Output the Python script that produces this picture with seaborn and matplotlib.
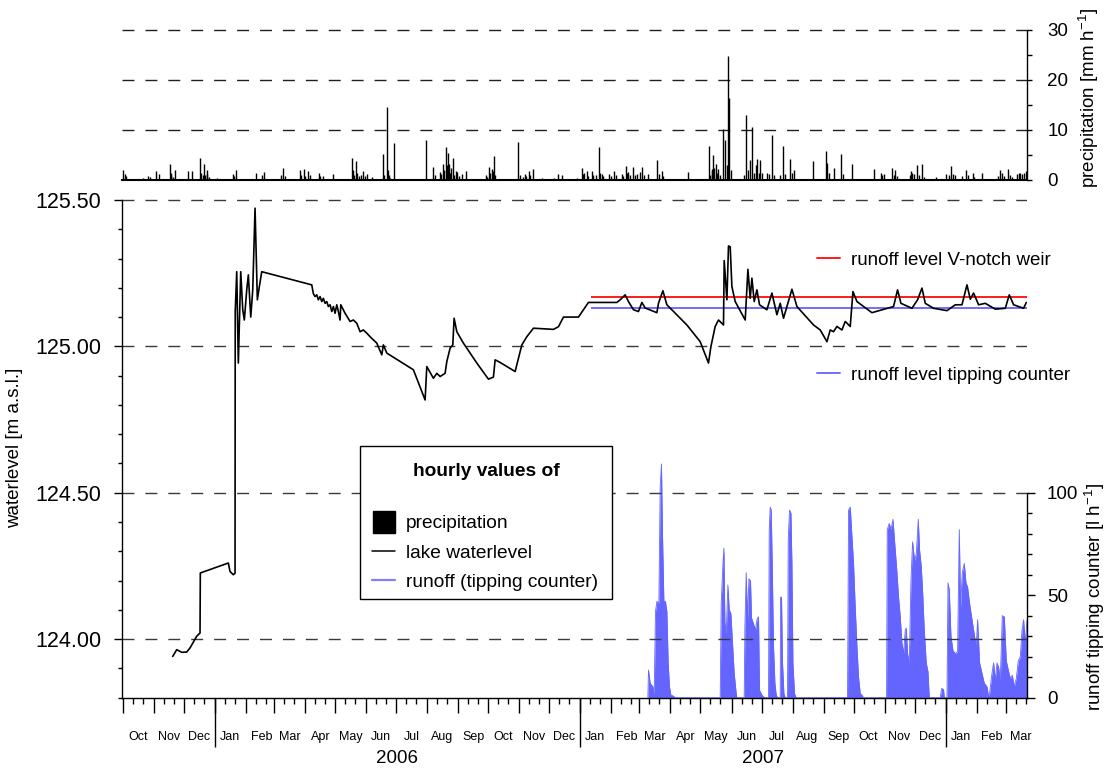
import numpy as np
import pandas as pd
import matplotlib
matplotlib.use("Agg")
import matplotlib.pyplot as plt
import matplotlib.dates as mdates
from matplotlib.ticker import MultipleLocator, FixedLocator, NullFormatter, FormatStrFormatter, NullLocator
from matplotlib.lines import Line2D
from matplotlib.patches import Rectangle
import seaborn as sns

# ---------------- data (days since 2005-10-01) ----------------
wl_day = [49.4, 53.4, 58.4, 63.4, 66.7, 73.4, 76.7, 77.0, 105.0, 106.7,
          110.0, 111.7, 111.9, 113.4, 115.0, 117.4, 119.4, 121.0, 123.4, 125.0,
          127.4, 129.4, 131.7, 132.7, 134.0, 136.0, 138.4,
          188.4, 190.0, 191.7, 193.4, 195.0, 196.7, 198.4, 200.0, 201.7, 203.4,
          205.0, 206.7, 208.4, 210.0, 211.7, 213.4, 215.0, 216.7, 217.4, 221.7,
          226.7, 230.0, 233.4, 236.7, 240.0, 243.4, 246.7, 250.0, 253.4, 258.4,
          260.0, 263.4,
          290.0, 301.7, 303.4, 310.0, 313.4, 316.7, 321.7, 323.4,
          326.7, 329.4, 330.7, 333.4, 340.0, 353.4, 365.0, 370.0, 371.7, 376.7,
          391.7, 398.4, 403.4, 410.0, 430.0, 435.0, 440.0, 455.0, 460.0, 465.0,
          493.4, 496.7, 501.7, 505.0, 510.0, 515.0, 518.4, 521.7, 533.4, 535.0,
          539.4, 543.4, 563.4, 576.7, 585.0, 587.4, 591.7, 595.0, 600.0, 600.7,
          603.4, 605.0, 606.7, 608.4, 611.7, 621.7, 624.4, 626.7, 628.4, 630.7,
          633.4, 636.0, 643.4, 648.4, 653.4, 656.7, 660.0, 668.4, 673.4, 690.0,
          696.7, 703.4, 706.7, 710.0, 713.4, 718.4, 721.7, 726.7, 729.4, 733.4,
          748.4, 770.0, 774.0, 777.4, 788.4, 794.0, 798.4, 801.7, 810.0, 823.4,
          831.7, 838.4, 843.4, 846.7, 850.0, 855.0, 861.7, 871.7, 881.7, 885.7,
          890.0, 900.0, 902.7]
wl_val = [123.941, 123.964, 123.955, 123.956, 123.970, 124.010, 124.021, 124.226, 124.260, 124.231,
          124.220, 124.225, 125.119, 125.255, 124.943, 125.255, 125.125, 125.090, 125.193, 125.244,
          125.100, 125.193, 125.472, 125.340, 125.159, 125.204, 125.255,
          125.210, 125.180, 125.170, 125.176, 125.159, 125.170, 125.153, 125.164, 125.147, 125.153,
          125.136, 125.142, 125.119, 125.136, 125.113, 125.142, 125.119, 125.090, 125.142, 125.113,
          125.085, 125.090, 125.079, 125.050, 125.056, 125.045, 125.033, 125.022, 125.011, 124.971,
          125.005, 124.977,
          124.920, 124.817, 124.931, 124.891, 124.908, 124.897, 124.908, 124.948,
          124.994, 125.005, 125.096, 125.050, 125.011, 124.943, 124.888, 124.895, 124.954, 124.945,
          124.914, 125.005, 125.033, 125.062, 125.058, 125.067, 125.100, 125.100, 125.125, 125.150,
          125.150, 125.159, 125.176, 125.153, 125.125, 125.119, 125.150, 125.131, 125.115, 125.147,
          125.190, 125.142, 125.073, 125.016, 124.943, 124.999, 125.068, 125.090, 125.073, 125.293,
          125.159, 125.343, 125.340, 125.204, 125.153, 125.090, 125.263, 125.164, 125.233, 125.153,
          125.193, 125.142, 125.125, 125.182, 125.108, 125.147, 125.096, 125.195, 125.136, 125.073,
          125.056, 125.016, 125.056, 125.050, 125.068, 125.056, 125.085, 125.068, 125.187, 125.153,
          125.115, 125.136, 125.193, 125.147, 125.130, 125.159, 125.199, 125.147, 125.130, 125.122,
          125.142, 125.142, 125.210, 125.161, 125.182, 125.142, 125.147, 125.127, 125.130, 125.176,
          125.142, 125.130, 125.150]

ro_day = [524.4, 525.0, 526.7, 529.4, 530.7, 532.0, 533.4, 535.4, 536.7, 538.0, 539.0, 540.4, 542.0,
          543.4, 544.7, 546.0, 547.4, 550.0, 551.7,
          596.7, 597.7, 599.4, 600.4, 601.4, 602.7, 604.4, 605.7, 607.4, 609.0, 610.7, 612.7, 613.4,
          620.7, 621.4, 622.7, 624.0, 625.4, 627.0, 628.0, 630.0, 632.0, 633.4, 635.0, 636.0, 638.4, 641.0,
          645.0, 645.7, 646.7, 647.7, 648.7, 650.0, 651.4, 652.7, 654.0,
          656.7, 657.0, 658.0, 659.0, 660.4, 661.7,
          664.0, 664.7, 666.0, 667.4, 668.4, 669.4, 671.0, 672.7,
          724.0, 725.0, 726.7, 728.4, 730.0, 731.7, 733.4, 735.0, 736.7, 738.4, 740.0,
          763.0, 763.7, 765.7, 767.4, 769.4, 771.4, 773.4, 775.0, 776.7, 778.4, 780.0, 781.7, 782.7,
          784.0, 785.7, 787.4, 789.0, 791.0, 792.7, 794.7, 796.0, 797.7, 799.0, 800.7, 802.7, 804.4, 805.7,
          816.7, 818.0, 820.0, 820.7,
          823.4, 824.4, 825.7, 827.4, 829.4, 831.7, 834.0, 835.7, 837.0, 838.7, 840.7, 842.4, 844.0,
          846.0, 848.0, 850.0, 852.7, 854.0, 856.0, 858.4, 860.7, 863.4, 864.7, 866.0, 868.4, 870.0,
          871.7, 873.4, 875.0, 876.7, 878.7, 880.7, 882.7, 884.7, 886.7, 888.7, 890.7, 892.7, 894.7,
          896.7, 898.4, 900.0, 901.7, 903.4]
ro_val = [0, 13.5, 7, 5.4, 1.3, 42, 47, 46, 103, 114, 80, 47, 47, 42, 17, 5.4, 1.3, 0.8, 0,
          0, 46, 65, 73, 37, 31, 55, 43, 41, 26.5, 12, 2, 0,
          0, 35, 61, 38, 58, 57, 39, 36, 33, 38, 39.5, 3.7, 1.3, 0,
          0, 82, 93, 91.5, 65.5, 25, 7, 1.3, 0,
          0, 49, 49, 17, 2, 0,
          0, 77, 91.5, 90, 65.5, 17, 2, 0,
          0, 91.5, 93, 78.5, 65.5, 44, 25, 10, 2, 1.3, 0,
          0, 82, 85, 82, 87, 74, 61, 49, 39.5, 26.5, 21.6, 33, 34,
          21.6, 17, 57, 76, 67, 70, 87, 72, 64, 52.5, 33, 17, 12.7, 0,
          0, 4.5, 4, 0,
          0, 56, 52.5, 30, 23, 21.6, 22.4, 82, 44, 61, 65.5, 56, 54,
          46, 39.5, 33, 25, 38, 17, 12, 7, 5.4, 1.3, 2, 12, 17,
          8.6, 17, 15, 8.6, 40, 39.5, 18, 13.5, 9.4, 11, 5.4, 9.4, 18,
          20, 33, 38, 26.5, 38]

# larger hourly precipitation totals
pr_day = [-0.6, 1.4, 25, 32.4, 35.7, 46.7, 48, 51.7, 64.4, 69,
          76.7, 81, 82, 84, 93.4, 110, 112.4, 132.7, 140.7, 160,
          176.7, 180.7, 185, 195.7, 200, 210, 228.4, 232.4, 234, 240,
          243.4, 248.4, 259.4, 263.4, 264.4, 270.7, 302.4, 310, 316.7, 319.4,
          322.4, 324.4, 326, 330, 334, 338.4, 342.4, 362.4, 366, 368.4,
          370.7, 394.4, 396.7, 401.7, 405.7, 410, 418.4, 430.7, 435, 438.4,
          453.4, 458.4, 463.4, 468.4, 472.7, 476, 478.4, 486, 491, 498.4,
          502.4, 505, 510, 516.7, 519, 525, 534, 538.4, 565, 585.7,
          588.4, 590, 592.4, 595, 599.4, 601.5, 604.4, 605.7, 622.7, 628.4,
          633, 636, 643.4, 648, 659, 666, 689, 702, 710.7, 717.4,
          728, 750, 768, 771, 787, 793, 798, 822, 827, 842,
          849, 858, 876, 884, 896, 902]
pr_val = [2.1, 1.2, 0.9, 1.8, 1.3, 3.2, 1.0, 2.0, 1.8, 1.8,
          4.4, 3.2, 1.0, 1.2, 0.5, 1.3, 2.0, 1.5, 1.7, 2.5,
          2.1, 2.3, 1.9, 1.5, 0.9, 1.3, 4.4, 3.8, 1.5, 1.8,
          1.3, 0.6, 5.2, 14.7, 2.0, 7.4, 8.0, 2.6, 1.6, 3.2,
          6.7, 5.4, 3.2, 4.4, 1.6, 1.2, 1.9, 1.1, 2.6, 2.2,
          4.9, 7.7, 1.1, 1.2, 1.9, 2.2, 0.5, 0.5, 1.3, 1.0,
          0.5, 2.4, 1.9, 1.9, 1.1, 6.7, 1.2, 1.3, 1.9, 1.2,
          2.8, 1.6, 2.6, 1.6, 2.6, 1.2, 4.0, 1.9, 1.6, 6.8,
          2.2, 5.1, 3.2, 2.2, 10.2, 8.0, 24.9, 16.4, 13.1, 10.6,
          4.3, 4.0, 1.5, 9.0, 6.8, 4.2, 3.8, 5.8, 2.5, 5.2,
          3.2, 2.3, 2.5, 2.1, 1.9, 3.1, 3.2, 1.3, 2.8, 2.1,
          1.4, 1.4, 2.0, 2.2, 1.4, 1.9]
# smaller hourly totals inside the rain clusters
pr_small_day = [2.5, 20, 27, 47.7, 50, 78, 80, 83.5, 86, 111, 139, 158, 162, 178, 182, 186.5,
                197, 229.5, 231, 236, 238, 241.5, 261, 265.5, 267, 312, 318, 320.5, 323.5, 327,
                328, 331, 332.5, 336, 364, 367, 369.5, 371.5, 400, 403, 407, 459.5, 461, 465,
                470, 477, 480, 488, 493, 500, 503.5, 507, 512, 514, 521, 536, 540, 587, 589, 591,
                593.5, 597, 603, 607, 620, 624, 626, 630, 632, 635, 638, 645, 650, 656, 661, 668,
                670, 703, 705, 719, 757, 758.5, 760, 770, 773, 786, 788.5, 790, 795, 800, 812,
                825, 829, 831, 838, 844, 850, 874, 878, 880, 886, 888, 893, 895, 898, 900]
pr_small_val = [0.8, 0.4, 0.6, 1.5, 0.7, 1.5, 1.0, 2.0, 0.6, 0.8, 1.0, 1.0, 0.8, 1.0, 0.9, 1.1,
                0.8, 2.0, 1.0, 0.8, 1.0, 0.9, 1.0, 1.0, 0.5, 1.0, 1.2, 2.0, 3.0, 1.5,
                2.5, 1.0, 1.8, 0.8, 0.7, 1.5, 1.8, 1.0, 0.6, 0.8, 1.0, 1.2, 1.5, 0.8,
                1.0, 1.5, 0.8, 0.8, 1.0, 0.8, 1.5, 1.0, 1.0, 1.2, 1.0, 1.2, 0.8, 1.0, 1.8, 2.5,
                1.5, 1.0, 3.0, 2.0, 1.0, 2.0, 4.0, 1.5, 3.0, 1.5, 1.5, 1.2, 1.0, 1.0, 1.3, 1.5,
                2.0, 3.5, 1.5, 1.2, 1.5, 1.0, 1.2, 1.0, 0.8, 1.0, 1.5, 1.2, 1.0, 0.6, 0.6,
                1.0, 1.2, 1.0, 0.8, 1.0, 0.7, 0.8, 1.4, 0.8, 1.0, 0.7, 1.2, 1.5, 1.2, 1.5]

weir_level = 125.17
counter_level = 125.13
level_start_day = 467.7
axis_day_range = [-1.3, 903.4]
year_label_dates = ["2006-07-02", "2007-07-02"]

legend_title = "hourly values of"
legend_labels = ["precipitation", "lake waterlevel", "runoff (tipping counter)"]

# ---------------- style ----------------
sns.set_theme(style="ticks", rc={"axes.edgecolor": "black", "xtick.color": "black",
                                 "ytick.color": "black", "text.color": "black",
                                 "axes.labelcolor": "black", "axes.linewidth": 1.0})
plt.rcParams["font.family"] = ["Liberation Sans", "DejaVu Sans"]
plt.rcParams["mathtext.fontset"] = "custom"
plt.rcParams["mathtext.rm"] = "Liberation Sans"
plt.rcParams["mathtext.it"] = "Liberation Sans:italic"
plt.rcParams["mathtext.bf"] = "Liberation Sans:bold"

BASE = pd.Timestamp("2005-10-01")


def to_dates(days):
    return BASE + pd.to_timedelta(np.asarray(days, dtype=float), unit="D")


wl = pd.DataFrame({"date": to_dates(wl_day), "level": wl_val})
ro = pd.DataFrame({"date": to_dates(ro_day), "runoff": ro_val})
pr = pd.DataFrame({"date": to_dates(list(pr_day) + list(pr_small_day)),
                   "precip": list(pr_val) + list(pr_small_val)})

FS = 13.5
FS_LEFT = 15.5
FS_LEG = 13.8
BLUE = "#6464ff"
DASH = (0, (8.6, 7.9))
GRIDC = "#3a3a3a"

W_PX, H_PX = 1111, 770
fig = plt.figure(figsize=(W_PX / 100, H_PX / 100), dpi=100)
L = 122 / W_PX
W = 905 / W_PX
ax = fig.add_axes([L, 1 - 697.7 / H_PX, W, 499.2 / H_PX])
ax_p = fig.add_axes([L, 1 - 180 / H_PX, W, 151.5 / H_PX], sharex=ax)
ax_r = ax.twinx()
ax.set_zorder(ax_r.get_zorder() + 1)
ax.patch.set_visible(False)

# ---------------- runoff (right, lower) ----------------
ax_r.fill_between(ro["date"], 0, ro["runoff"], color=BLUE, lw=0)
sns.lineplot(data=ro, x="date", y="runoff", ax=ax_r, color=BLUE, lw=0.6, estimator=None, legend=False)
ax_r.set_ylim(0, 243.5)
ax_r.yaxis.set_major_locator(FixedLocator([0, 50, 100]))
ax_r.yaxis.set_minor_locator(FixedLocator(list(range(10, 100, 10))))
ax_r.tick_params(axis="y", which="major", length=5.8, width=1, pad=8.6, labelsize=FS, right=True)
ax_r.tick_params(axis="y", which="minor", length=3.3, width=1, right=True)
for s in ["top", "left", "bottom"]:
    ax_r.spines[s].set_visible(False)
ax_r.spines["right"].set_bounds(0, 100)
ax_r.set_ylabel("runoff tipping counter [l h$^{-1}$]", fontsize=FS)
ax_r.yaxis.set_label_coords(1.062, 0.202)

# ---------------- waterlevel (left) ----------------
sns.lineplot(data=wl, x="date", y="level", ax=ax, color="black", lw=1.2, estimator=None, legend=False)
ax.hlines(weir_level, to_dates([level_start_day])[0], to_dates([axis_day_range[1]])[0],
          color="#ff1a1a", lw=1.4, zorder=1)
ax.hlines(counter_level, to_dates([level_start_day])[0], to_dates([axis_day_range[1]])[0],
          color="#6f6fff", lw=1.4, zorder=1)
ax.set_ylim(123.8, 125.505)
ax.set_xlim(to_dates([axis_day_range[0]])[0], to_dates([axis_day_range[1]])[0])
ax.yaxis.set_major_locator(MultipleLocator(0.5))
ax.yaxis.set_minor_locator(MultipleLocator(0.1))
ax.yaxis.set_major_formatter(FormatStrFormatter("%.2f"))
ax.tick_params(axis="y", which="major", length=5.8, width=1, pad=9.0, labelsize=FS_LEFT, left=True)
ax.tick_params(axis="y", which="minor", length=3, width=1, left=True)
ax.grid(axis="y", which="major", ls=DASH, color=GRIDC, lw=1.0)
ax.spines["top"].set_visible(False)
ax.spines["right"].set_visible(False)
ax.spines["left"].set_bounds(123.8, 125.5)
ax.set_xlabel("")
ax.set_ylabel("waterlevel [m a.s.l.]", fontsize=FS)
ax.yaxis.set_label_coords(-0.109, 0.50)

# x ticks: months (major), 11th/21st (minor)
ax.xaxis.set_major_locator(mdates.MonthLocator())
ax.xaxis.set_minor_locator(mdates.DayLocator(bymonthday=[11, 21]))
ax.xaxis.set_major_formatter(NullFormatter())
ax.xaxis.set_minor_formatter(NullFormatter())
ax.tick_params(axis="x", which="major", length=10.8, width=1, bottom=True)
ax.tick_params(axis="x", which="minor", length=4.5, width=1, bottom=True)

# month labels
sec_m = ax.secondary_xaxis("bottom")
sec_m.xaxis.set_major_locator(mdates.MonthLocator(bymonthday=16))
sec_m.xaxis.set_major_formatter(mdates.DateFormatter("%b"))
sec_m.xaxis.set_minor_locator(NullLocator())
sec_m.tick_params(axis="x", which="major", length=0, pad=24, labelsize=9)
sec_m.spines["bottom"].set_visible(False)

# year separators and labels
sec_y = ax.secondary_xaxis("bottom")
sec_y.xaxis.set_major_locator(mdates.YearLocator())
sec_y.xaxis.set_major_formatter(NullFormatter())
sec_y.xaxis.set_minor_locator(FixedLocator(mdates.date2num(pd.to_datetime(year_label_dates))))
sec_y.xaxis.set_minor_formatter(mdates.DateFormatter("%Y"))
sec_y.tick_params(axis="x", which="major", length=35.5, width=1)
sec_y.tick_params(axis="x", which="minor", length=0, pad=37.5, labelsize=FS)
sec_y.spines["bottom"].set_visible(False)

# ---------------- precipitation (top) ----------------
ax_p.vlines(pr["date"], 0, pr["precip"], color="black", lw=1.0)
ax_p.set_ylim(0, 30.3)
ax_p.yaxis.tick_right()
ax_p.yaxis.set_label_position("right")
ax_p.yaxis.set_major_locator(FixedLocator([0, 10, 20, 30]))
ax_p.yaxis.set_minor_locator(FixedLocator([5, 15, 25]))
ax_p.tick_params(axis="y", which="major", length=3.6, width=1, pad=11, labelsize=FS, right=True, left=False)
ax_p.tick_params(axis="y", which="minor", length=3.6, width=1, right=True, left=False)
ax_p.tick_params(axis="x", which="both", length=0, labelbottom=False, bottom=False)
ax_p.grid(axis="y", which="major", ls=DASH, color="#202020", lw=1.0)
for s in ["top", "left"]:
    ax_p.spines[s].set_visible(False)
ax_p.spines["bottom"].set_linewidth(1.5)
ax_p.spines["right"].set_bounds(0, 30)
ax_p.set_xlabel("")
ax_p.set_ylabel("precipitation [mm h$^{-1}$]", fontsize=FS)
ax_p.yaxis.set_label_coords(1.055, 0.54)

# ---------------- legends ----------------
leg_w = fig.legend(handles=[Line2D([], [], color="#ff1a1a", lw=1.4)], labels=["runoff level V-notch weir"],
                   loc="center left", bbox_to_anchor=(817 / W_PX, 1 - 260 / H_PX),
                   bbox_transform=fig.transFigure, frameon=False, fontsize=FS,
                   handlelength=1.2, handletextpad=0.6, borderpad=0, borderaxespad=0)
leg_c = fig.legend(handles=[Line2D([], [], color="#6f6fff", lw=1.4)], labels=["runoff level tipping counter"],
                   loc="center left", bbox_to_anchor=(817 / W_PX, 1 - 375 / H_PX),
                   bbox_transform=fig.transFigure, frameon=False, fontsize=FS,
                   handlelength=1.2, handletextpad=0.6, borderpad=0, borderaxespad=0)

# main legend: frame + bold title + entries
fig.patches.append(Rectangle((360 / W_PX, 1 - 599 / H_PX), 252 / W_PX, 153 / H_PX,
                             transform=fig.transFigure, facecolor="white", edgecolor="black",
                             lw=1.0, zorder=5))
fig.text(486 / W_PX, 1 - 472 / H_PX, legend_title, ha="center", va="center",
         fontsize=FS_LEG, fontweight="bold", zorder=6)
handles = [Line2D([], [], marker="s", ls="none", color="black", markersize=16.5),
           Line2D([], [], color="black", lw=1.1),
           Line2D([], [], color="#8080ff", lw=1.6)]
leg = fig.legend(handles=handles, labels=legend_labels,
                 loc="upper left", bbox_to_anchor=(372 / W_PX, 1 - 515 / H_PX),
                 bbox_transform=fig.transFigure, fontsize=FS_LEG, frameon=False,
                 handlelength=1.2, handletextpad=0.55, labelspacing=0.62,
                 borderpad=0, borderaxespad=0)
leg.set_zorder(7)

fig.savefig("out.png", dpi=100)
